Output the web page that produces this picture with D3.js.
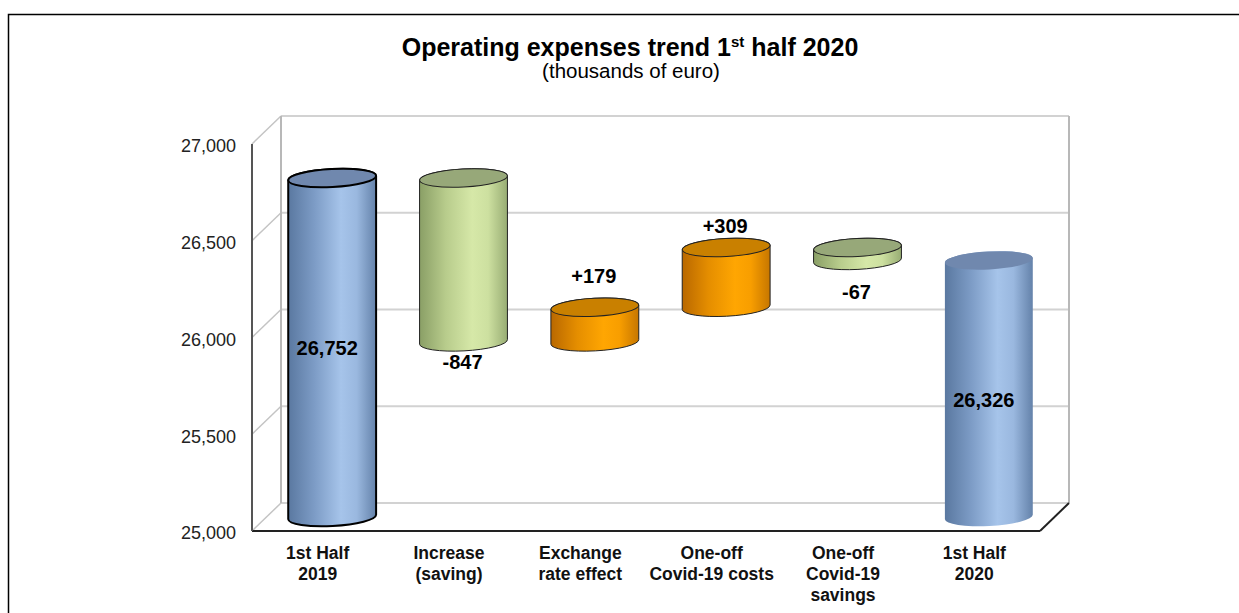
<!DOCTYPE html>
<html>
<head>
<meta charset="utf-8">
<script src="https://cdn.jsdelivr.net/npm/d3@7"></script>
<style>
  html, body { margin: 0; padding: 0; background: #fff; }
  svg { display: block; font-family: "Liberation Sans", Arial, sans-serif; }
</style>
</head>
<body>
<svg id="chart" width="1239" height="613"></svg>
<script>
// Operating expenses bridge, 1st half 2019 -> 1st half 2020 (thousands of euro)
const categories = [
  ["1st Half", "2019"],
  ["Increase", "(saving)"],
  ["Exchange", "rate effect"],
  ["One-off", "Covid-19 costs"],
  ["One-off", "Covid-19", "savings"],
  ["1st Half", "2020"]
];
const values = [26752, -847, 179, 309, -67, 26326];
const kinds = ["total", "delta", "delta", "delta", "delta", "total"];
const tickValues = [25000, 25500, 26000, 26500, 27000];
const yDomain = [25000, 27000];

// Layout of the 3D box
const front = { left: 252, right: 1040, bottom: 531, top: 144 };
const depth = { dx: 29, dy: -28 };
const mid = { dx: depth.dx / 2, dy: depth.dy / 2 };

const svg = d3.select("#chart");

// Outer frame
svg.append("rect")
  .attr("x", 8.5).attr("y", 14.5)
  .attr("width", 1260).attr("height", 640)
  .attr("fill", "none").attr("stroke", "#000").attr("stroke-width", 1.5);

// Title
const title = svg.append("text")
  .attr("x", 630).attr("y", 56)
  .attr("text-anchor", "middle")
  .attr("font-size", 25).attr("font-weight", "bold").attr("fill", "#000");
title.append("tspan").text("Operating expenses trend 1");
title.append("tspan").text("st").attr("font-size", 15).attr("dy", -9);
title.append("tspan").text(" half 2020").attr("dy", 9);

svg.append("text")
  .attr("x", 631).attr("y", 78)
  .attr("text-anchor", "middle")
  .attr("font-size", 20.5).attr("fill", "#000")
  .text("(thousands of euro)");

// Scales
const x = d3.scaleBand().domain(d3.range(categories.length)).range([front.left, front.right]).padding(0);
const y = d3.scaleLinear().domain(yDomain).range([front.bottom, front.top]);
const bw = x.bandwidth();

// Back wall, floor and gridlines
const walls = svg.append("g");
const backL = front.left + depth.dx, backR = front.right + depth.dx;

tickValues.forEach(t => {
  const yf = y(t), yb = y(t) + depth.dy;
  walls.append("line")
    .attr("x1", backL).attr("x2", backR).attr("y1", yb).attr("y2", yb)
    .attr("stroke", "#d2d2d2").attr("stroke-width", 2);
  walls.append("line")
    .attr("x1", front.left).attr("y1", yf).attr("x2", backL).attr("y2", yb)
    .attr("stroke", "#c4c4c4").attr("stroke-width", 1.5);
});
// back wall verticals
walls.append("line")
  .attr("x1", backL).attr("x2", backL)
  .attr("y1", y(yDomain[1]) + depth.dy).attr("y2", y(yDomain[0]) + depth.dy)
  .attr("stroke", "#b8b8b8").attr("stroke-width", 2);
walls.append("line")
  .attr("x1", backR).attr("x2", backR)
  .attr("y1", y(yDomain[1]) + depth.dy).attr("y2", y(yDomain[0]) + depth.dy)
  .attr("stroke", "#b8b8b8").attr("stroke-width", 2);
// floor edges
walls.append("line")
  .attr("x1", front.left).attr("x2", front.right)
  .attr("y1", y(yDomain[0])).attr("y2", y(yDomain[0]))
  .attr("stroke", "#222").attr("stroke-width", 2);
walls.append("line")
  .attr("x1", front.right).attr("y1", y(yDomain[0]))
  .attr("x2", backR).attr("y2", y(yDomain[0]) + depth.dy)
  .attr("stroke", "#222").attr("stroke-width", 2);
// front vertical axis
walls.append("line")
  .attr("x1", front.left).attr("x2", front.left)
  .attr("y1", y(yDomain[1])).attr("y2", y(yDomain[0]))
  .attr("stroke", "#555").attr("stroke-width", 2);

// Y axis labels
const yAxis = d3.axisLeft(y).tickValues(tickValues).tickSize(0).tickPadding(16).tickFormat(d3.format(","));
const ya = svg.append("g").attr("transform", `translate(${front.left},2)`).call(yAxis);
ya.select(".domain").remove();
ya.selectAll("text").attr("font-size", 18).attr("fill", "#222").attr("font-family", "Liberation Sans, Arial, sans-serif");

// Category labels
categories.forEach((lines, i) => {
  const t = svg.append("text")
    .attr("x", x(i) + bw / 2)
    .attr("y", 559)
    .attr("text-anchor", "middle")
    .attr("font-size", 17.5).attr("font-weight", "bold").attr("fill", "#111");
  lines.forEach((ln, j) => {
    t.append("tspan").attr("x", x(i) + bw / 2).attr("dy", j === 0 ? 0 : 21).text(ln);
  });
});

// Gradients for cylinder bodies
const defs = svg.append("defs");
const palettes = {
  blue:   { stops: ["#5a78a0", "#7d9cc6", "#a6c4ea", "#9ab8df", "#6482aa"], top: "#7088ae" },
  green:  { stops: ["#8a9f66", "#b8cc8c", "#d6e8a8", "#cde0a0", "#98ad74"], top: "#97a879" },
  orange: { stops: ["#b96800", "#e58e00", "#ffa602", "#f89e00", "#c67600"], top: "#c98000" }
};
Object.entries(palettes).forEach(([k, p]) => {
  const g = defs.append("linearGradient").attr("id", "grad-" + k)
    .attr("x1", "0%").attr("x2", "100%").attr("y1", "0%").attr("y2", "0%");
  [0, 0.3, 0.6, 0.78, 1].forEach((o, i) => g.append("stop").attr("offset", o).attr("stop-color", p.stops[i]));
});

// Waterfall segments
let running = 0;
const segs = values.map((v, i) => {
  let lo, hi;
  if (kinds[i] === "total") { lo = yDomain[0]; hi = v; running = v; }
  else { const start = running; running += v; lo = Math.min(start, running); hi = Math.max(start, running); }
  const color = kinds[i] === "total" ? "blue" : (v < 0 ? "green" : "orange");
  return { i, v, lo, hi, color, kind: kinds[i] };
});

const tilt = -3;
const rad = tilt * Math.PI / 180;
const rx = bw * 0.335, ry = 9;
const strokes = [
  { c: "#000", w: 2 }, { c: "#222", w: 1 }, { c: "#222", w: 1 },
  { c: "#222", w: 1 }, { c: "#222", w: 1 }, { c: "none", w: 0 }
];

const bars = svg.append("g");
segs.forEach(s => {
  const cx = x(s.i) + bw / 2 + mid.dx;
  const yt = y(s.hi) + mid.dy;
  const yb = y(s.lo) + mid.dy;
  const ox = rx * Math.cos(rad), oy = rx * Math.sin(rad);
  const p = palettes[s.color];
  const st = strokes[s.i];
  const body = `M${cx - ox},${yt - oy} L${cx - ox},${yb - oy} ` +
    `A${rx},${ry} ${tilt} 0 0 ${cx + ox},${yb + oy} ` +
    `L${cx + ox},${yt + oy} A${rx},${ry} ${tilt} 0 0 ${cx - ox},${yt - oy} Z`;
  bars.append("path").attr("d", body)
    .attr("fill", `url(#grad-${s.color})`)
    .attr("stroke", st.c).attr("stroke-width", st.w);
  bars.append("ellipse")
    .attr("cx", cx).attr("cy", yt).attr("rx", rx).attr("ry", ry)
    .attr("transform", `rotate(${tilt},${cx},${yt})`)
    .attr("fill", p.top)
    .attr("stroke", st.c).attr("stroke-width", st.w);
  s.cx = cx; s.yt = yt; s.yb = yb;
});

// Value labels (plain hyphen for negatives)
const fmtTotal = d3.format(",");
const fmtDelta = v => (v > 0 ? "+" : "-") + Math.abs(v);
const labelShift = [8, 18, -15, -5, 30, 18];
segs.forEach(s => {
  let ly;
  if (s.kind === "total") ly = (s.yt + s.yb) / 2 + labelShift[s.i];
  else if (s.v > 0) ly = s.yt - ry + labelShift[s.i];
  else ly = s.yb + ry + labelShift[s.i];
  svg.append("text")
    .attr("x", s.cx - (s.kind === "total" ? 5 : 1))
    .attr("y", ly)
    .attr("text-anchor", "middle")
    .attr("font-size", 20).attr("font-weight", "bold").attr("fill", "#000")
    .text(s.kind === "total" ? fmtTotal(s.v) : fmtDelta(s.v));
});
</script>
</body>
</html>
